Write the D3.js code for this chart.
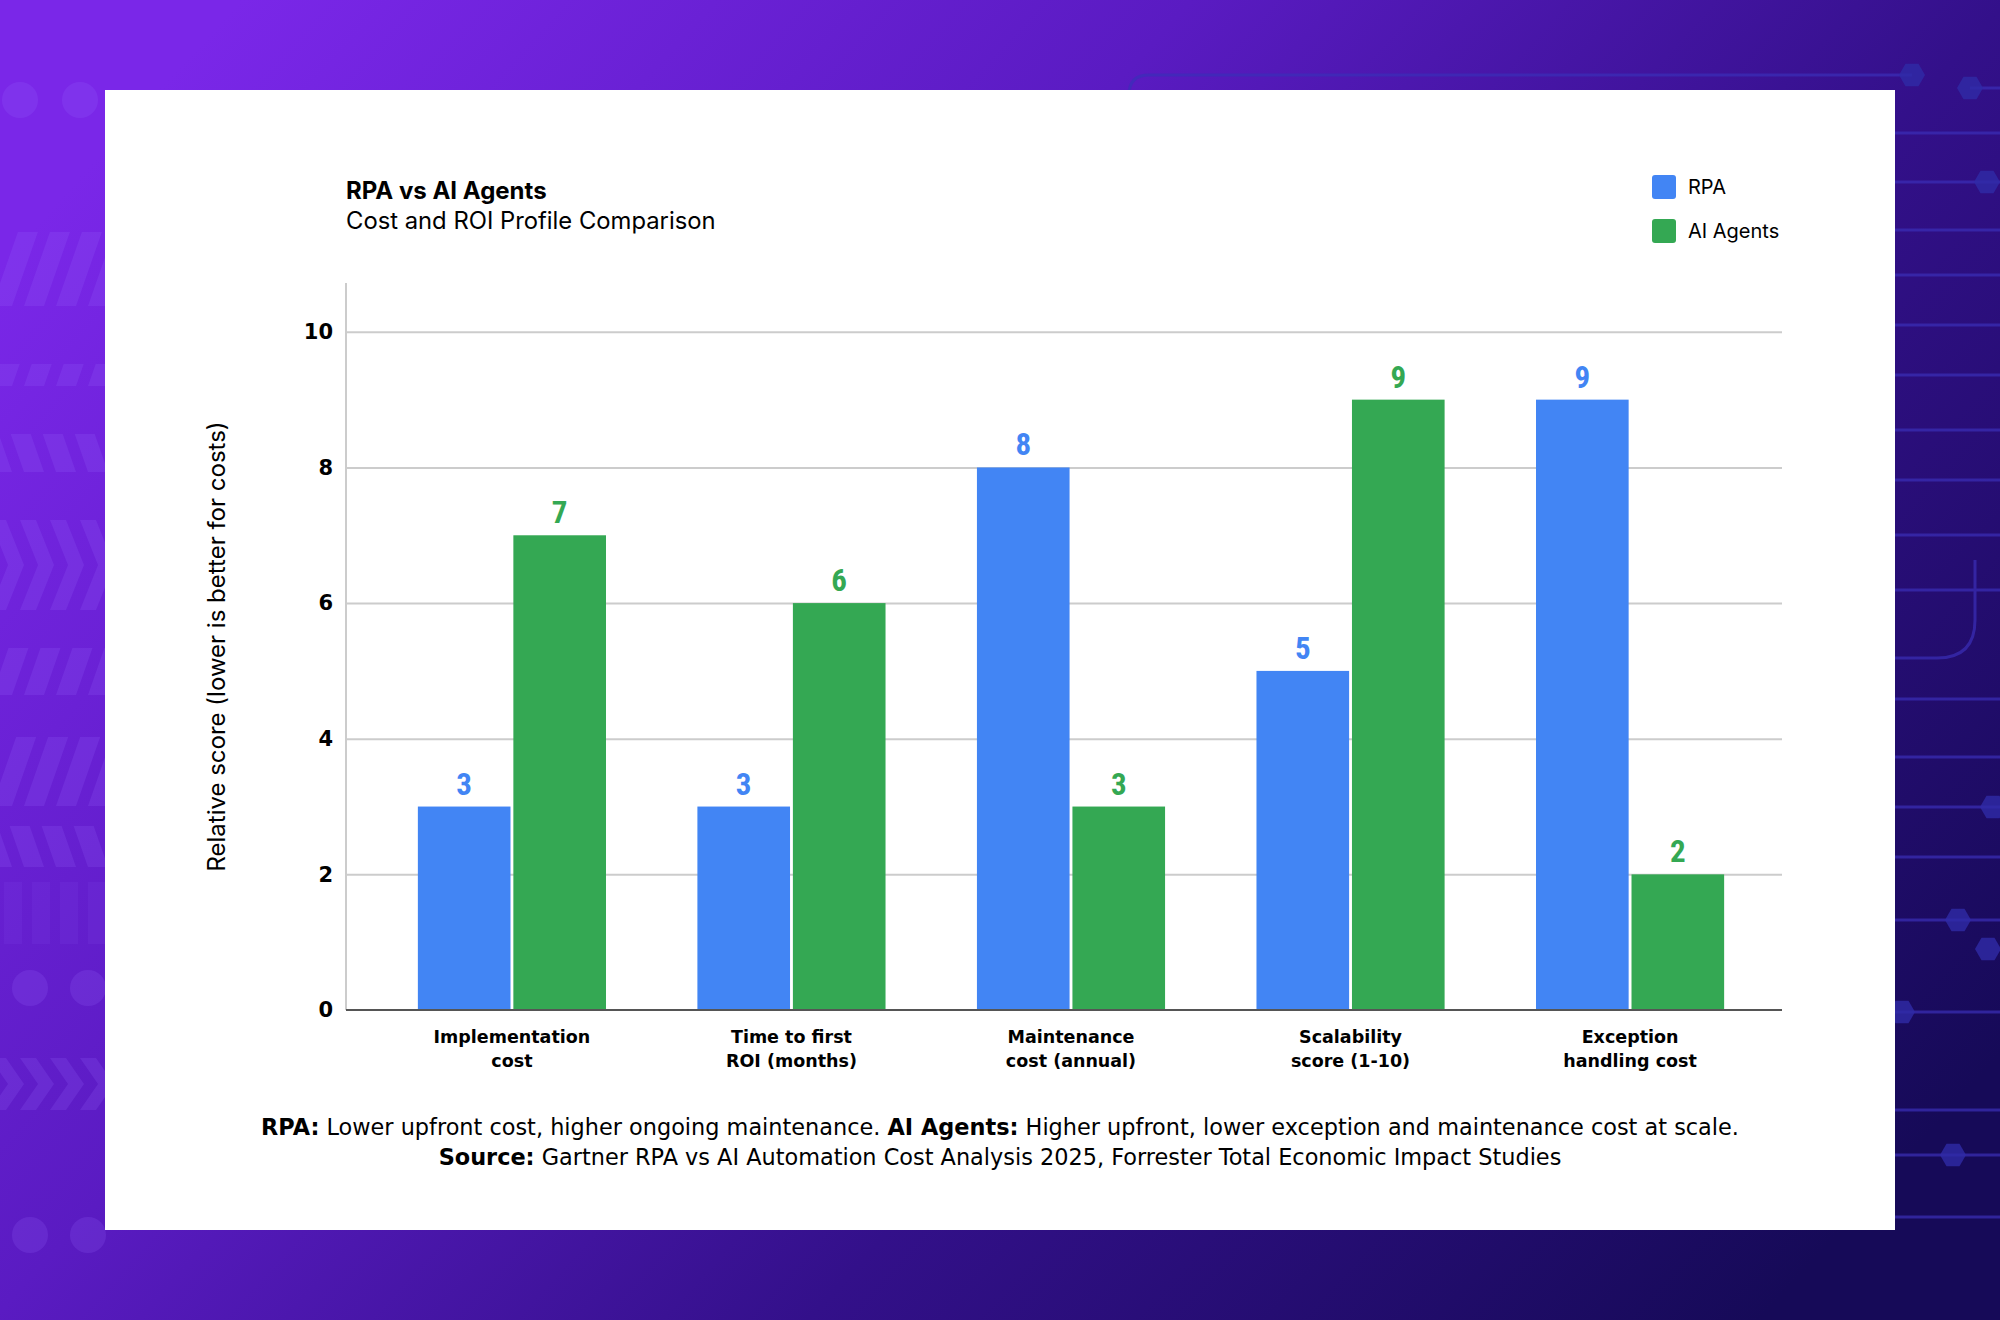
<!DOCTYPE html>
<html>
<head>
<meta charset="utf-8">
<script src="https://cdn.jsdelivr.net/npm/d3@7"></script>
<style>
  html, body { margin: 0; padding: 0; background: #1a0b5e; }
  svg { display: block; }
</style>
</head>
<body>
<div id="chart"></div>
<script>
// chart data
const categories = ['Implementation cost', 'Time to first ROI (months)', 'Maintenance cost (annual)', 'Scalability score (1-10)', 'Exception handling cost'];
const categoryLines = [['Implementation', 'cost'], ['Time to first', 'ROI (months)'], ['Maintenance', 'cost (annual)'], ['Scalability', 'score (1-10)'], ['Exception', 'handling cost']];
const seriesNames = ['RPA', 'AI Agents'];
const rpaValues = [3, 3, 8, 5, 9];
const agentValues = [7, 6, 3, 9, 2];
const yTicks = [0, 2, 4, 6, 8, 10];
const seriesColors = ['#4285F4', '#34A853'];

const svgWidth = 2000;
const svgHeight = 1320;

const plot = { left: 346, right: 1782, top: 283, bottom: 1010 };

const svg = d3.select('#chart')
.append('svg')
.attr('width', svgWidth)
.attr('height', svgHeight);

// background gradient
const defs = svg.append('defs');
const grad = defs.append('linearGradient')
.attr('id', 'bg')
.attr('x1', 0).attr('y1', 0.2)
.attr('x2', 1).attr('y2', 0.8);
[['0', '#7a27e8'], ['0.35', '#5a1bc2'], ['0.65', '#33108a'], ['1', '#160a58']].forEach(([o, c]) => {
    grad.append('stop').attr('offset', o).attr('stop-color', c);
});

svg.append('rect')
.attr('width', svgWidth)
.attr('height', svgHeight)
.attr('fill', 'url(#bg)');

// decoration on the left edge: faint stripes, chevrons and dots
const deco = svg.append('g').attr('fill', '#9a6bff').attr('opacity', 0.18);
const stripeRows = [[232, 306, 1], [364, 386, 1], [434, 472, -1], [648, 695, 1], [737, 806, 1], [826, 867, -1]];
stripeRows.forEach(([y0, y1, dir]) => {
    for (let i = 0; i < 4; i++) {
        const xs = i * 32 - 8;
        const lean = (y1 - y0) * 0.35 * dir;
        deco.append('path')
        .attr('d', `M${xs + lean},${y0} L${xs + lean + 20},${y0} L${xs + 20},${y1} L${xs},${y1} Z`);
    }
});
[[520, 610], [1058, 1110]].forEach(([y0, y1]) => {
    for (let i = 0; i < 4; i++) {
        const xs = i * 30 - 10;
        const mid = (y0 + y1) / 2;
        deco.append('path')
        .attr('d', `M${xs},${y0} L${xs + 16},${y0} L${xs + 34},${mid} L${xs + 16},${y1} L${xs},${y1} L${xs + 18},${mid} Z`);
    }
});
[[30, 988], [88, 988], [30, 1235], [88, 1235], [20, 100], [80, 100]].forEach(([cx, cy]) => {
    deco.append('circle').attr('cx', cx).attr('cy', cy).attr('r', 18);
});
for (let i = 0; i < 4; i++) {
    deco.append('rect').attr('x', i * 28 + 4).attr('y', 882).attr('width', 18).attr('height', 62).attr('opacity', 0.5);
}

// decoration on the right edge: circuit lines
const circuit = svg.append('g').attr('stroke', '#3b2fb8').attr('stroke-width', 3).attr('fill', 'none').attr('opacity', 0.7);
circuit.append('path').attr('d', 'M1129,110 L1129,95 Q1129,75 1149,75 L1912,75');
circuit.append('path').attr('d', 'M1970,88 L2000,88');
[133, 182, 230, 275, 325, 375, 430, 480, 535, 590, 699, 757, 807, 857, 920, 1012, 1110, 1155, 1217].forEach((ly) => {
    circuit.append('line').attr('x1', 1890).attr('x2', 2000).attr('y1', ly).attr('y2', ly);
});
circuit.append('path').attr('d', 'M1975,560 L1975,620 Q1975,658 1937,658 L1890,658');
const hexes = [[1912, 75], [1970, 88], [1987, 182], [1993, 807], [1958, 920], [1988, 949], [1902, 1012], [1953, 1155]];
hexes.forEach(([hx, hy]) => {
    const pts = d3.range(6).map((k) => {
        const a = Math.PI / 3 * k;
        return [hx + 13 * Math.cos(a), hy + 13 * Math.sin(a)];
    });
    svg.append('path')
    .attr('d', 'M' + pts.join('L') + 'Z')
    .attr('fill', '#2f2aa6')
    .attr('opacity', 0.8);
});

// white card
svg.append('rect')
.attr('x', 105)
.attr('y', 90)
.attr('width', 1790)
.attr('height', 1140)
.attr('fill', '#ffffff');

// scales
const x0 = d3.scaleBand()
.domain(categories)
.range([360, plot.right])
.paddingInner(0.327)
.paddingOuter(0.207);

const x1 = d3.scaleBand()
.domain(seriesNames)
.range([0, x0.bandwidth()])
.paddingInner(0.03);

const y = d3.scaleLinear()
.domain([0, 10.72])
.range([plot.bottom, plot.top]);

// gridlines and y tick labels
const yAxis = svg.append('g')
.attr('transform', `translate(${plot.left},0)`)
.call(
    d3.axisLeft(y)
    .tickValues(yTicks)
    .tickSize(-(plot.right - plot.left))
    .tickPadding(13)
    .tickFormat(d3.format('d'))
);
yAxis.select('.domain').remove();
yAxis.selectAll('.tick line')
.attr('stroke', '#cccccc')
.attr('stroke-width', 2)
.filter((d) => d === 0)
.remove();
yAxis.selectAll('.tick text')
.attr('fill', '#000')
.attr('font-family', 'DejaVu Sans, sans-serif')
.attr('font-weight', 'bold')
.attr('font-size', 21);

// left axis line
svg.append('line')
.attr('x1', plot.left).attr('x2', plot.left)
.attr('y1', plot.top).attr('y2', plot.bottom)
.attr('stroke', '#cccccc')
.attr('stroke-width', 2);

// bars
const seriesValues = [rpaValues, agentValues];
const groups = svg.append('g')
.selectAll('g')
.data(categories)
.join('g')
.attr('transform', (d) => `translate(${x0(d)},0)`);

groups.selectAll('rect')
.data((d, i) => seriesNames.map((s, k) => ({ s, k, v: seriesValues[k][i] })))
.join('rect')
.attr('x', (d) => x1(d.s))
.attr('width', x1.bandwidth())
.attr('y', (d) => y(d.v))
.attr('height', (d) => y(0) - y(d.v))
.attr('fill', (d) => seriesColors[d.k]);

// value labels over the bars
groups.selectAll('text')
.data((d, i) => seriesNames.map((s, k) => ({ s, k, v: seriesValues[k][i] })))
.join('text')
.attr('x', (d) => x1(d.s) + x1.bandwidth() / 2)
.attr('y', (d) => y(d.v) - 12)
.attr('text-anchor', 'middle')
.attr('fill', (d) => seriesColors[d.k])
.attr('font-family', "'Liberation Sans Narrow', 'Roboto Condensed', 'DejaVu Sans Condensed', sans-serif")
.attr('font-stretch', 'condensed')
.attr('font-weight', 'bold')
.attr('font-size', 31)
.text((d) => d.v);

// baseline
svg.append('line')
.attr('x1', plot.left).attr('x2', plot.right)
.attr('y1', y(0)).attr('y2', y(0))
.attr('stroke', '#555555')
.attr('stroke-width', 2);

// category labels
const xLabels = svg.append('g')
.selectAll('text')
.data(categories)
.join('text')
.attr('x', (d) => x0(d) + x0.bandwidth() / 2)
.attr('y', y(0) + 33)
.attr('text-anchor', 'middle')
.attr('font-family', 'DejaVu Sans, sans-serif')
.attr('font-weight', 'bold')
.attr('font-size', 17.5)
.attr('fill', '#000');

xLabels.selectAll('tspan')
.data((d, i) => categoryLines[i])
.join('tspan')
.attr('x', function () { return d3.select(this.parentNode).attr('x'); })
.attr('dy', (d, i) => i === 0 ? 0 : 24)
.text((d) => d);

// y axis title
svg.append('text')
.attr('transform', `translate(225, ${(plot.top + plot.bottom) / 2}) rotate(-90)`)
.attr('text-anchor', 'middle')
.attr('font-family', 'Inter, sans-serif')
.attr('font-size', 24)
.attr('fill', '#000')
.text('Relative score (lower is better for costs)');

// title and subtitle
svg.append('text')
.attr('x', plot.left)
.attr('y', 199)
.attr('font-family', 'Inter, sans-serif')
.attr('font-weight', 'bold')
.attr('font-size', 24)
.attr('fill', '#000')
.text('RPA vs AI Agents');

svg.append('text')
.attr('x', plot.left)
.attr('y', 229)
.attr('font-family', 'Inter, sans-serif')
.attr('font-size', 23.8)
.attr('fill', '#000')
.text('Cost and ROI Profile Comparison');

// legend
const legend = svg.append('g')
.selectAll('g')
.data(seriesNames)
.join('g')
.attr('transform', (d, i) => `translate(1652, ${175 + i * 44})`);

legend.append('rect')
.attr('width', 24)
.attr('height', 24)
.attr('rx', 3)
.attr('fill', (d, i) => seriesColors[i]);

legend.append('text')
.attr('x', 36)
.attr('y', 19)
.attr('font-family', 'Inter, sans-serif')
.attr('font-size', 20)
.attr('fill', '#000')
.text((d) => d);

// footnote
const noteLines = [
    [['RPA:', true], [' Lower upfront cost, higher ongoing maintenance. ', false], ['AI Agents:', true], [' Higher upfront, lower exception and maintenance cost at scale.', false]],
    [['Source:', true], [' Gartner RPA vs AI Automation Cost Analysis 2025, Forrester Total Economic Impact Studies', false]]
];

const note = svg.append('g')
.attr('font-family', 'DejaVu Sans, sans-serif')
.attr('font-size', 22.4)
.attr('fill', '#000');

noteLines.forEach((line, i) => {
    const t = note.append('text')
    .attr('x', 1000)
    .attr('y', 1135 + i * 29.5)
    .attr('text-anchor', 'middle')
    .attr('xml:space', 'preserve');
    line.forEach(([s, bold]) => {
        t.append('tspan')
        .attr('font-weight', bold ? 'bold' : 'normal')
        .text(s);
    });
});
</script>
</body>
</html>
